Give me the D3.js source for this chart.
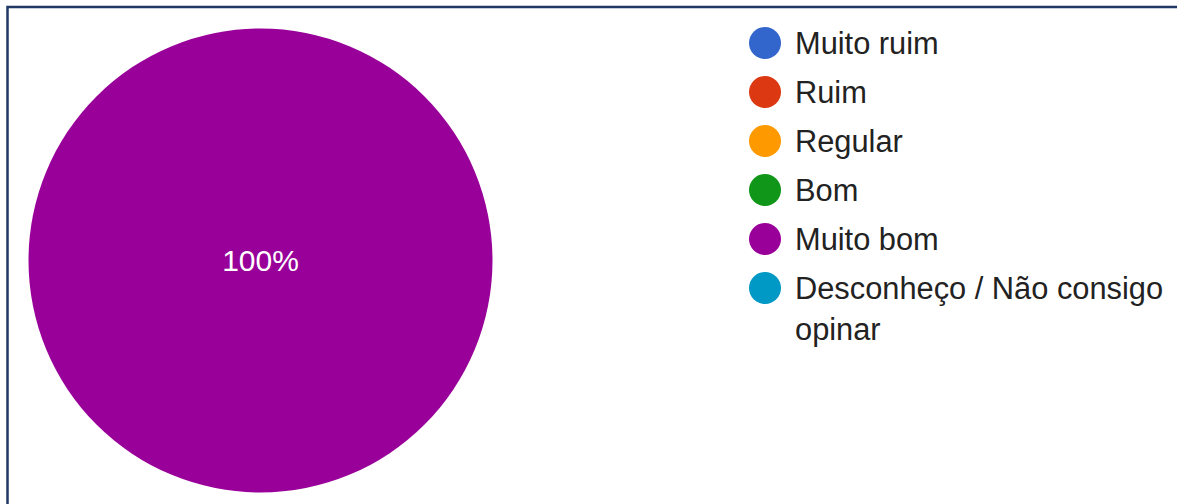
<!DOCTYPE html>
<html>
<head>
<meta charset="utf-8">
<script src="https://cdn.jsdelivr.net/npm/d3@7"></script>
<style>
  html, body { margin: 0; padding: 0; background: #fff; }
  svg { display: block; }
</style>
</head>
<body>
<svg id="chart" width="1177" height="504"></svg>
<script>
// chart data
var categories = ['Muito ruim', 'Ruim', 'Regular', 'Bom', 'Muito bom', 'Desconheço / Não consigo opinar'];
var values = [0, 0, 0, 0, 100, 0];
var colors = ['#3366cc', '#dc3912', '#ff9900', '#109618', '#990099', '#0099c6'];
// legend labels split over lines as in the picture
var legendLines = [['Muito ruim'], ['Ruim'], ['Regular'], ['Bom'], ['Muito bom'], ['Desconheço / Não consigo', 'opinar']];

var svg = d3.select('#chart');

// frame
svg.append('rect')
  .attr('x', 7.5).attr('y', 7)
  .attr('width', 1177).attr('height', 504)
  .attr('fill', 'none')
  .attr('stroke', '#1f3864')
  .attr('stroke-width', 2.5);

var cx = 260.5, cy = 260.5, radius = 232;

var color = d3.scaleOrdinal().domain(categories).range(colors);
var total = d3.sum(values);

var pie = d3.pie().sort(null).value(function (d) { return d.value; });
var arc = d3.arc().innerRadius(0).outerRadius(radius);

var data = categories.map(function (c, i) { return { name: c, value: values[i] }; });

var g = svg.append('g').attr('transform', 'translate(' + cx + ',' + cy + ')');

var slices = g.selectAll('path')
  .data(pie(data).filter(function (d) { return d.value > 0; }))
  .enter();

slices.append('path')
  .attr('d', arc)
  .attr('fill', function (d) { return color(d.data.name); });

slices.append('text')
  .attr('transform', function (d) {
    // full circle: put the label in the centre
    if (d.endAngle - d.startAngle >= 2 * Math.PI - 1e-6) return 'translate(0,0)';
    var c = d3.arc().innerRadius(radius * 0.5).outerRadius(radius).centroid(d);
    return 'translate(' + c + ')';
  })
  .attr('dy', '0.35em')
  .attr('text-anchor', 'middle')
  .attr('fill', '#fff')
  .style('font-family', 'Arial, "Liberation Sans", sans-serif')
  .style('font-size', '30px')
  .text(function (d) { return Math.round(d.value / total * 100) + '%'; });

// legend
var legendX = 765, legendY = 43, step = 49, lineGap = 41;
var legend = svg.append('g');
var items = legend.selectAll('g.item')
  .data(categories)
  .enter().append('g')
  .attr('class', 'item')
  .attr('transform', function (d, i) { return 'translate(' + legendX + ',' + (legendY + i * step) + ')'; });

items.append('circle')
  .attr('r', 16)
  .attr('fill', function (d) { return color(d); });

items.append('text')
  .attr('fill', '#222')
  .style('font-family', 'Arial, "Liberation Sans", sans-serif')
  .style('font-size', '30.8px')
  .each(function (d, i) {
    var t = d3.select(this);
    legendLines[i].forEach(function (line, j) {
      t.append('tspan').attr('x', 30).attr('y', 10.5 + j * lineGap).text(line);
    });
  });
</script>
</body>
</html>
